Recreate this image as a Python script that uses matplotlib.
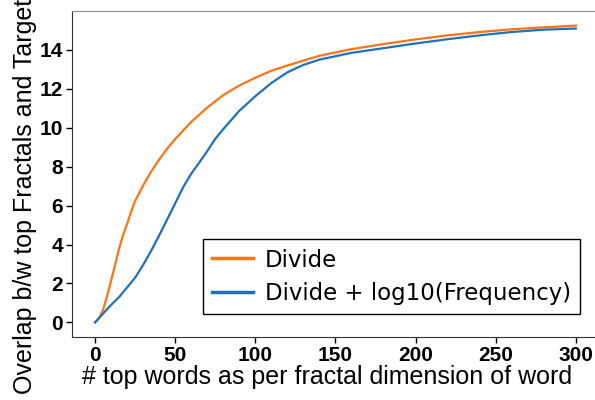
import matplotlib
matplotlib.use("Agg")
import matplotlib.pyplot as plt

# data
x_div = [0, 2.5, 5, 7.5, 10, 12.5, 15, 17.5, 20, 22.5, 25, 30, 35, 40, 45, 50, 60, 70,
         80, 90, 100, 110, 120, 130, 140, 160, 180, 200, 220, 240, 260, 280, 300]
y_div = [0, 0.22, 0.65, 1.35, 2.15, 2.95, 3.8, 4.5, 5.06, 5.7, 6.24, 7.04, 7.75, 8.37,
         8.93, 9.42, 10.3, 11.04, 11.68, 12.17, 12.57, 12.93, 13.2, 13.45, 13.7, 14.04,
         14.3, 14.54, 14.75, 14.92, 15.06, 15.16, 15.25]

x_freq = [0, 5, 10, 15, 20, 25, 30, 35, 40, 45, 50, 55, 60, 65, 70, 75, 80, 90, 100,
          110, 120, 130, 140, 160, 180, 200, 220, 240, 260, 280, 300]
y_freq = [0, 0.45, 0.9, 1.3, 1.8, 2.3, 2.95, 3.68, 4.47, 5.29, 6.12, 6.95, 7.64, 8.21,
          8.8, 9.43, 9.93, 10.87, 11.62, 12.3, 12.85, 13.23, 13.5, 13.85, 14.09,
          14.33, 14.55, 14.75, 14.92, 15.04, 15.1]

xticks = [0, 50, 100, 150, 200, 250, 300]
yticks = [0, 2, 4, 6, 8, 10, 12, 14]

fig = plt.figure(figsize=(5.95, 4.0), dpi=100)
ax = fig.add_axes([0.121, 0.1575, 0.879, 0.815])

ax.plot(x_div, y_div, color="#fb7416", lw=1.6, label="Divide")
ax.plot(x_freq, y_freq, color="#1f70bd", lw=1.6, label="Divide + log10(Frequency)")

ax.set_xlim(-14.4, 312)
ax.set_ylim(-0.75, 16.0)
ax.set_xticks(xticks)
ax.set_yticks(yticks)

ax.spines["right"].set_visible(False)
ax.spines["top"].set_color("#888888")
for s in ["left", "bottom"]:
    ax.spines[s].set_color("#333333")

ax.tick_params(axis="both", direction="out", length=4.5, width=1, pad=2)
for lab in ax.get_xticklabels() + ax.get_yticklabels():
    lab.set_fontfamily("Liberation Sans")
    lab.set_fontweight("bold")
    lab.set_fontsize(15)

ax.set_xlabel("# top words as per fractal dimension of word",
              fontfamily="Liberation Sans", fontsize=18)
ax.xaxis.set_label_coords(0.4885, -0.086)
ax.set_ylabel("Overlap b/w top Fractals and Target",
              fontfamily="Liberation Sans", fontsize=18)
ax.yaxis.set_label_coords(-0.067, 0.43)

leg = ax.legend(loc="lower right", bbox_to_anchor=(0.971, 0.0706),
                borderaxespad=0,
                prop={"family": "DejaVu Sans", "size": 16.5},
                frameon=True, fancybox=False, framealpha=1,
                edgecolor="black", handlelength=1.8, borderpad=0.4,
                labelspacing=0.45, handletextpad=0.5)
leg.get_frame().set_linewidth(1.0)
for line in leg.get_lines():
    line.set_linewidth(2.5)

fig.savefig("out.png", dpi=100)
